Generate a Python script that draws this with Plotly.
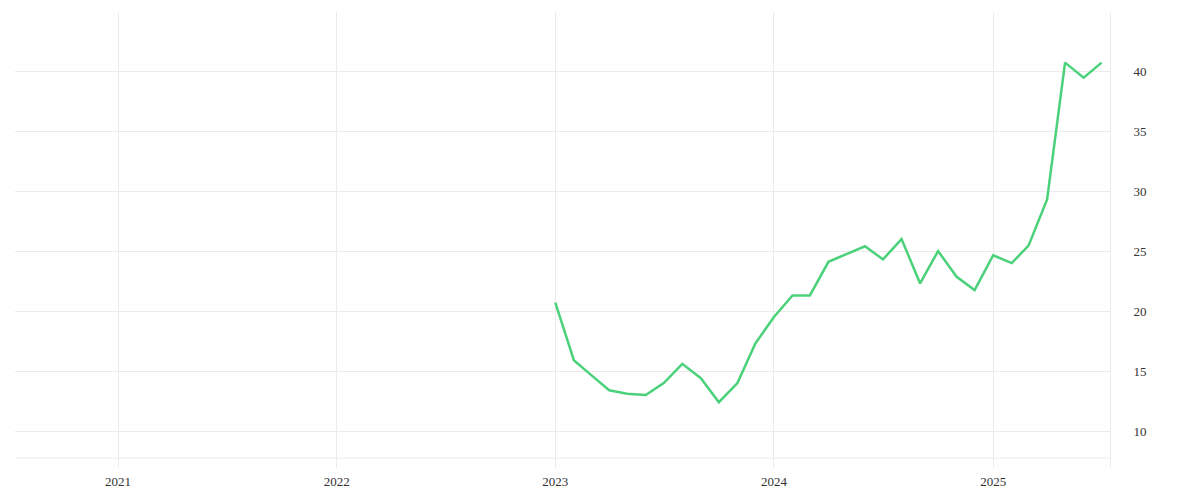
import plotly.graph_objects as go

months = [
    '2023-01-01', '2023-02-01', '2023-03-01', '2023-04-01', '2023-05-01', '2023-06-01',
    '2023-07-01', '2023-08-01', '2023-09-01', '2023-10-01', '2023-11-01', '2023-12-01',
    '2024-01-01', '2024-02-01', '2024-03-01', '2024-04-01', '2024-05-01', '2024-06-01',
    '2024-07-01', '2024-08-01', '2024-09-01', '2024-10-01', '2024-11-01', '2024-12-01',
    '2025-01-01', '2025-02-01', '2025-03-01', '2025-04-01', '2025-05-01', '2025-06-01',
    '2025-07-01',
]
values = [
    20.7, 15.9, 14.7, 13.4, 13.1, 13.0,
    14.0, 15.6, 14.4, 12.4, 14.0, 17.3,
    19.5, 21.3, 21.3, 24.1, 24.75, 25.4,
    24.3, 26.0, 22.3, 25.0, 22.85, 21.75,
    24.65, 24.0, 25.45, 29.3, 40.7, 39.45,
    40.7,
]
year_ticks = ['2021-01-01', '2022-01-01', '2023-01-01', '2024-01-01', '2025-01-01']
year_labels = ['2021', '2022', '2023', '2024', '2025']

grid = '#ebebeb'

fig = go.Figure()
fig.add_trace(go.Scatter(x=months, y=values, mode='lines',
                         line=dict(color='#4cd17b', width=2.5), hoverinfo='x+y'))

# bottom border line of the chart area
fig.add_shape(type='line', xref='paper', yref='y', x0=0, x1=1, y0=7.75, y1=7.75,
              line=dict(color=grid, width=1), layer='below')

fig.update_layout(
    width=1200, height=500,
    margin=dict(l=7, r=98, t=4, b=40),
    plot_bgcolor='white', paper_bgcolor='white',
    showlegend=False,
    font=dict(family='Liberation Serif, serif', size=13, color='#333333'),
)
fig.update_xaxes(
    range=['2020-07-13', '2025-07-15'],
    tickvals=year_ticks, ticktext=year_labels,
    showgrid=True, gridcolor=grid, gridwidth=1,
    zeroline=False, showline=False, ticks='',
    ticklabelstandoff=4,
)
fig.update_yaxes(
    side='right', range=[6.92, 44.92],
    tickvals=[10, 15, 20, 25, 30, 35, 40],
    showgrid=True, gridcolor=grid, gridwidth=1,
    zeroline=False, showline=True, linecolor=grid, linewidth=1,
    ticks='', ticklabelstandoff=20,
)

fig.write_html('out.html')
